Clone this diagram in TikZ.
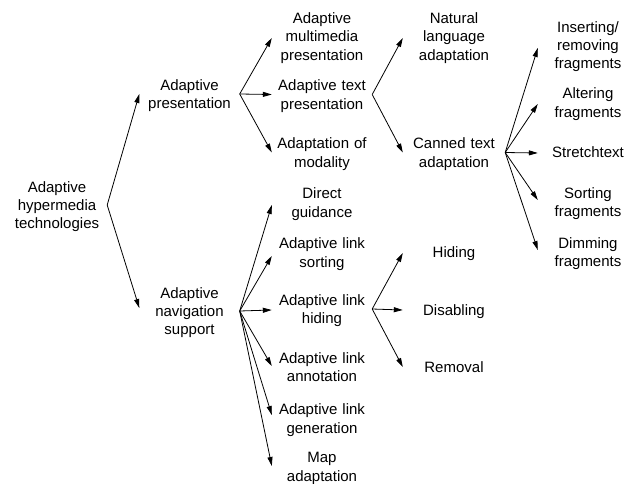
\documentclass[tikz,border=0pt]{standalone}
\usepackage{fontspec}
\setmainfont{Liberation Sans}
\usetikzlibrary{arrows.meta}
\newcommand{\sT}{\rule[-3.75pt]{0pt}{18.3pt}}
\begin{document}
\begin{tikzpicture}[x=1pt,y=-1pt,
  lbl/.style={text width=100pt,align=center,inner sep=0pt,font=\fontsize{15}{18.3}\selectfont},
  arr/.style={line width=0.8pt,-{Triangle[length=9pt,width=5pt]}}]
\useasboundingbox (0,0) rectangle (633,483);
\fill[white] (0,0) rectangle (633,483);
% column 0
\node[lbl] (root) at (57,205) {\sT Adaptive\\hypermedia\\technologies\sT};
% column 1
\node[lbl] (ap)  at (189.5,94)  {\sT Adaptive\\presentation\sT};
\node[lbl] (ans) at (189.5,311) {\sT Adaptive\\navigation\\support\sT};
% column 2
\node[lbl] (amp) at (322,36.5)  {\sT Adaptive\\multimedia\\presentation\sT};
\node[lbl] (atp) at (322,94.5)  {\sT Adaptive text\\presentation\sT};
\node[lbl] (am)  at (322,152.5) {\sT Adaptation of\\modality\sT};
\node[lbl] (dg)  at (322,202.5) {\sT Direct\\guidance\sT};
\node[lbl] (als) at (322,252.5) {\sT Adaptive link\\sorting\sT};
\node[lbl] (alh) at (322,309)   {\sT Adaptive link\\hiding\sT};
\node[lbl] (ala) at (322,367)   {\sT Adaptive link\\annotation\sT};
\node[lbl] (alg) at (322,418.5) {\sT Adaptive link\\generation\sT};
\node[lbl] (map) at (322,466.5) {\sT Map\\adaptation\sT};
% column 3
\node[lbl,text width=102pt] (nla) at (454,36.5)  {\sT Natural\\language\\adaptation\sT};
\node[lbl,text width=102pt] (cta) at (454,152.5) {\sT Canned text\\adaptation\sT};
\node[lbl,text width=102pt] (hid) at (454,252)   {\sT Hiding\sT};
\node[lbl,text width=102pt] (dis) at (454,310)   {\sT Disabling\sT};
\node[lbl,text width=102pt] (rem) at (454,367)   {\sT Removal\sT};
% column 4
\node[lbl] (irf) at (588,45)    {\sT Inserting/\\removing\\fragments\sT};
\node[lbl] (af)  at (588,102.5) {\sT Altering\\fragments\sT};
\node[lbl] (st)  at (588,152)   {\sT Stretchtext\sT};
\node[lbl] (sf)  at (588,202)   {\sT Sorting\\fragments\sT};
\node[lbl] (df)  at (588,252)   {\sT Dimming\\fragments\sT};
% connectors
\draw[arr] (root.east) -- (ap.west);
\draw[arr] (root.east) -- ([yshift=3pt]ans.west);
\draw[arr] (ap.east) -- ([yshift=-1.5pt]amp.west);
\draw[arr] (ap.east) -- (atp.west);
\draw[arr] (ap.east) -- (am.west);
\draw[arr] (ans.east) -- ([yshift=-2.5pt]dg.west);
\draw[arr] (ans.east) -- ([yshift=-3.5pt]als.west);
\draw[arr] (ans.east) -- ([yshift=-1pt]alh.west);
\draw[arr] (ans.east) -- ([yshift=1pt]ala.west);
\draw[arr] (ans.east) -- ([yshift=3.5pt]alg.west);
\draw[arr] (ans.east) -- ([yshift=0.5pt]map.west);
\draw[arr] (atp.east) -- ([yshift=-1.5pt]nla.west);
\draw[arr] (atp.east) -- (cta.west);
\draw[arr] (alh.east) -- ([yshift=-1pt]hid.west);
\draw[arr] (alh.east) -- (dis.west);
\draw[arr] (alh.east) -- (rem.west);
\draw[arr] (cta.east) -- ([yshift=-3pt]irf.west);
\draw[arr] (cta.east) -- ([yshift=-1.5pt]af.west);
\draw[arr] (cta.east) -- ([yshift=-1pt]st.west);
\draw[arr] (cta.east) -- ([yshift=2pt]sf.west);
\draw[arr] (cta.east) -- ([yshift=2pt]df.west);
\end{tikzpicture}
\end{document}
